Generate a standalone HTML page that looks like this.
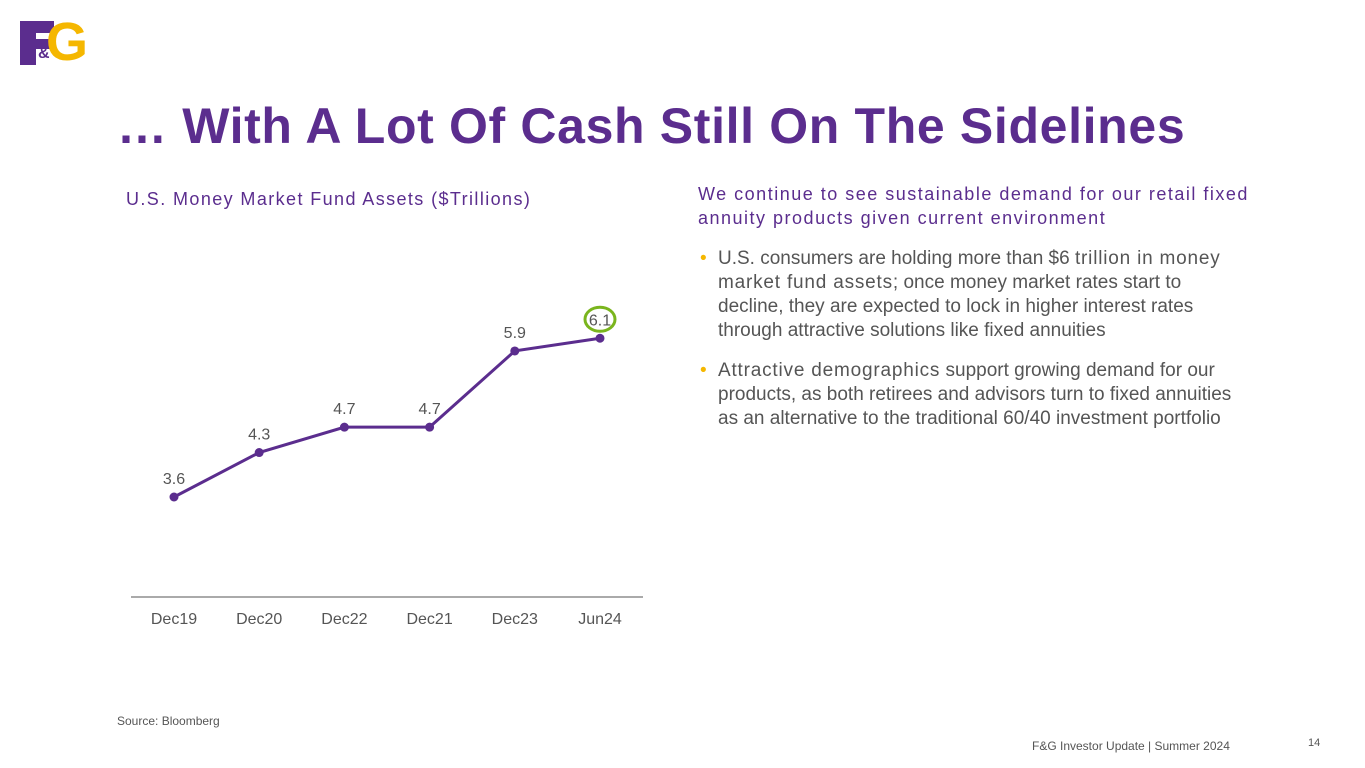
<!DOCTYPE html>
<html><head><meta charset="utf-8"><style>
body{margin:0;width:1365px;height:768px;background:#fff;font-family:"Liberation Sans",sans-serif;position:relative;overflow:hidden}
.a{position:absolute}
.b{white-space:nowrap}
</style></head><body>
<div class="a" style="left:20px;top:19px;width:70px;height:48px">
<div class="a" style="left:0;top:2px;width:16px;height:44px;background:#5b2d8e"></div>
<div class="a" style="left:0;top:2px;width:34px;height:12px;background:#5b2d8e"></div>
<div class="a" style="left:0;top:20px;width:30px;height:10px;background:#5b2d8e"></div>
<div class="a" style="left:26px;top:-2px;font:bold 54px 'Liberation Sans';color:#f5b700;line-height:50px">G</div>
<div class="a" style="left:18px;top:26px;font:bold 16px 'Liberation Sans';color:#5b2d8e">&amp;</div>
</div>
<div class="a" style="left:117px;top:97px;font:bold 50px 'Liberation Sans';letter-spacing:0.65px;color:#5b2d8e;white-space:nowrap">… With A Lot Of Cash Still On The Sidelines</div>
<div class="a" style="left:126px;top:189px;font:18px 'Liberation Sans';letter-spacing:1.4px;color:#5b2d8e;white-space:nowrap">U.S. Money Market Fund Assets ($Trillions)</div>
<svg class="a" style="left:0;top:0" width="1365" height="768" id="chart"></svg>
<div class="a b" style="left:698px;top:182px;font:18px/24px 'Liberation Sans';letter-spacing:1.5px;color:#5b2d8e">We continue to see sustainable demand for our retail fixed<br>annuity products given current environment</div>
<div class="a b" style="left:718px;top:247px;font:19px/24px 'Liberation Sans';color:#555"><span class="a" style="left:-18px;color:#f5b700">•</span>U.S. consumers are holding more than $6 <span style="letter-spacing:0.8px">trillion in money</span><br><span style="letter-spacing:0.8px">market fund assets</span>; once money market rates start to<br>decline, they are expected to lock in higher interest rates<br>through attractive solutions like fixed annuities</div>
<div class="a b" style="left:718px;top:359px;font:19px/24px 'Liberation Sans';color:#555"><span class="a" style="left:-18px;color:#f5b700">•</span><span style="letter-spacing:0.8px">Attractive demographics</span> support growing demand for our<br>products, as both retirees and advisors turn to fixed annuities<br>as an alternative to the traditional 60/40 investment portfolio</div>
<div class="a" style="left:117px;top:714px;font:12px 'Liberation Sans';color:#555">Source: Bloomberg</div>
<div class="a" style="left:1032px;top:739px;font:12px 'Liberation Sans';color:#555">F&amp;G Investor Update | Summer 2024</div>
<div class="a" style="left:1308px;top:737px;font:11px 'Liberation Sans';color:#555">14</div>
<script>
const categories=["Dec19","Dec20","Dec22","Dec21","Dec23","Jun24"];
const values=[3.6,4.3,4.7,4.7,5.9,6.1];
const labels=["3.6","4.3","4.7","4.7","5.9","6.1"];
const svg=document.getElementById('chart');const NS="http://www.w3.org/2000/svg";
const xs=i=>174+i*85.2;const ys=v=>497-(v-3.6)*63.5;
function mk(t,a){const e=document.createElementNS(NS,t);for(const k in a)e.setAttribute(k,a[k]);svg.appendChild(e);return e;}
const ax=mk('line',{x1:131,x2:643,y1:597,y2:597,stroke:'#555','stroke-width':1});


const pl=mk('polyline',{points:values.map((v,i)=>xs(i)+','+ys(v)).join(' '),fill:'none',stroke:'#5b2d8e','stroke-width':3});


values.forEach((v,i)=>{
const c=mk('circle',{cx:xs(i),cy:ys(v),r:4.5,fill:'#5b2d8e'});


const t=mk('text',{x:xs(i),y:ys(v)-13,'text-anchor':'middle','font-size':16,fill:'#555','font-family':'Liberation Sans'});t.textContent=labels[i];


const x=mk('text',{x:xs(i),y:624,'text-anchor':'middle','font-size':16,fill:'#555','font-family':'Liberation Sans'});x.textContent=categories[i];


});
const last=values.length-1;
const hl=mk('ellipse',{cx:xs(last),cy:ys(values[last])-19,rx:15,ry:12,fill:'none',stroke:'#7ab51d','stroke-width':3});


</script>
</body></html>
